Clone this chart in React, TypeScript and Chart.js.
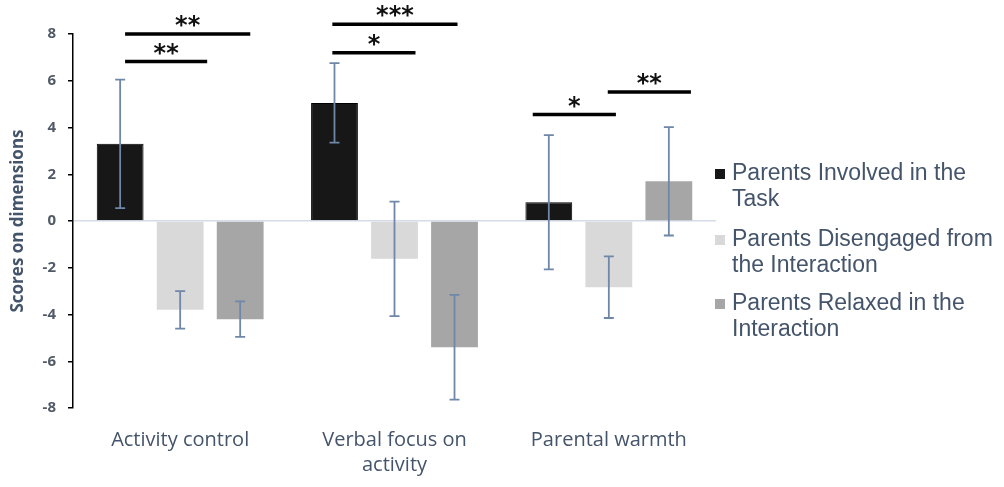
import React, { useEffect, useRef } from 'react';
import { Chart, registerables } from 'chart.js';

Chart.register(...registerables);

// ---- data ----
const categories: (string | string[])[] = ['Activity control', ['Verbal focus on', 'activity'], 'Parental warmth'];

const seriesNames: string[][] = [
  ['Parents Involved in the', 'Task'],
  ['Parents Disengaged from', 'the Interaction'],
  ['Parents Relaxed in the', 'Interaction'],
];
const seriesColors = ['#171717', '#d9d9d9', '#a6a6a6'];

const involved = [3.3, 5.05, 0.8];
const involvedErr = [2.75, 1.7, 2.87];
const disengaged = [-3.8, -1.62, -2.83];
const disengagedErr = [0.8, 2.45, 1.32];
const relaxed = [-4.2, -5.4, 1.7];
const relaxedErr = [0.76, 2.24, 2.32];

const yMin = -8;
const yMax = 8;
const yStep = 2;

// significance brackets (x in category-index units, y in data units)
const sigFrom = [-0.257, -0.257, 0.71, 0.71, 1.645, 1.995];
const sigTo = [0.327, 0.126, 1.294, 1.098, 2.033, 2.383];
const sigY = [8.0, 6.82, 8.42, 7.2, 4.56, 5.52];
const sigLabel = ['**', '**', '***', '*', '*', '**'];

const errors = [involvedErr, disengagedErr, relaxedErr];

const TEXT = '#44546a';

const errorBarPlugin = {
  id: 'errorBars',
  afterDatasetsDraw(chart: any) {
    const ctx = chart.ctx;
    const y = chart.scales.y;
    ctx.save();
    ctx.strokeStyle = '#6f87a8';
    ctx.lineWidth = 1.8;
    chart.data.datasets.forEach((ds: any, di: number) => {
      const meta = chart.getDatasetMeta(di);
      meta.data.forEach((bar: any, i: number) => {
        const v = ds.data[i];
        const e = errors[di][i];
        const yt = y.getPixelForValue(v + e);
        const yb = y.getPixelForValue(v - e);
        const x = bar.x;
        ctx.beginPath();
        ctx.moveTo(x, yt);
        ctx.lineTo(x, yb);
        ctx.moveTo(x - 5, yt);
        ctx.lineTo(x + 5, yt);
        ctx.moveTo(x - 5, yb);
        ctx.lineTo(x + 5, yb);
        ctx.stroke();
      });
    });
    ctx.restore();
  },
};

const sigPlugin = {
  id: 'sig',
  afterDraw(chart: any) {
    const ctx = chart.ctx;
    const xs = chart.scales.x;
    const ys = chart.scales.y;
    const n = categories.length;
    const w = (xs.right - xs.left) / n;
    const px = (v: number) => xs.left + w * (v + 0.5);
    ctx.save();
    ctx.strokeStyle = '#000';
    ctx.fillStyle = '#111';
    ctx.lineWidth = 3.5;
    ctx.textAlign = 'center';
    ctx.textBaseline = 'middle';
    ctx.font = 'bold 24px "DejaVu Sans"';
    for (let i = 0; i < sigY.length; i++) {
      const x0 = px(sigFrom[i]);
      const x1 = px(sigTo[i]);
      const yy = ys.getPixelForValue(sigY[i]);
      ctx.beginPath();
      ctx.moveTo(x0, yy);
      ctx.lineTo(x1, yy);
      ctx.stroke();
      ctx.fillText(sigLabel[i], (x0 + x1) / 2, yy - 7);
    }
    ctx.restore();
  },
};

const legendPlugin = {
  id: 'customLegend',
  afterDraw(chart: any) {
    const ctx = chart.ctx;
    const area = chart.chartArea;
    const bx = area.right - 1;
    const tx = area.right + 16;
    const firstBaselines = [180, 246, 310];
    ctx.save();
    ctx.font = '23px "Liberation Sans"';
    ctx.textAlign = 'left';
    ctx.textBaseline = 'alphabetic';
    seriesNames.forEach((lines, i) => {
      const b = firstBaselines[i];
      ctx.fillStyle = seriesColors[i];
      ctx.fillRect(bx, b - 11, 10, 10);
      ctx.fillStyle = TEXT;
      lines.forEach((ln, j) => ctx.fillText(ln, tx, b + j * 26));
    });
    ctx.restore();
  },
};

export default function App() {
  const ref = useRef<HTMLCanvasElement | null>(null);
  useEffect(() => {
    document.body.style.margin = '0';
    const canvas = ref.current!;
    const chart = new Chart(canvas, {
      type: 'bar',
      data: {
        labels: categories as any,
        datasets: [
          { label: seriesNames[0].join(' '), data: involved, backgroundColor: seriesColors[0], borderColor: '#000', borderWidth: 1 },
          { label: seriesNames[1].join(' '), data: disengaged, backgroundColor: seriesColors[1], borderWidth: 0 },
          { label: seriesNames[2].join(' '), data: relaxed, backgroundColor: seriesColors[2], borderWidth: 0 },
        ],
      },
      options: {
        animation: false,
        responsive: false,
        devicePixelRatio: 1,
        layout: { padding: { left: 0, top: 34, right: 288, bottom: 0 } },
        datasets: { bar: { categoryPercentage: 0.84, barPercentage: 0.78 } },
        plugins: { legend: { display: false }, tooltip: { enabled: false } },
        scales: {
          x: {
            grid: { display: false, drawTicks: false },
            border: { display: false },
            ticks: { color: TEXT, font: { family: '"Open Sans"', size: 20, lineHeight: 1.25 }, padding: 20, maxRotation: 0, autoSkip: false },
            afterFit: (s: any) => { s.height = 79; },
          },
          y: {
            min: yMin,
            max: yMax,
            ticks: { stepSize: yStep, color: '#525a68', font: { family: '"Open Sans"', size: 15, weight: 'bold' }, padding: 12 },
            grid: {
              color: (c: any) => (c.tick && c.tick.value === 0 ? '#d3dce8' : 'rgba(0,0,0,0)'),
              tickColor: '#000',
              tickLength: 5,
              lineWidth: 1.5,
            },
            border: { display: true, color: '#000', width: 1.5 },
            title: { display: true, text: 'Scores on dimensions', color: TEXT, font: { family: '"Open Sans"', size: 17, weight: 'bold' }, padding: { top: 8, bottom: 0 } },
            afterFit: (s: any) => { s.width = 73; },
          },
        },
      },
      plugins: [errorBarPlugin, sigPlugin, legendPlugin],
    } as any);
    return () => chart.destroy();
  }, []);
  return (
    <div style={{ width: 1004, height: 487, background: '#fff' }}>
      <canvas ref={ref} width={1004} height={487} style={{ display: 'block' }} />
    </div>
  );
}
